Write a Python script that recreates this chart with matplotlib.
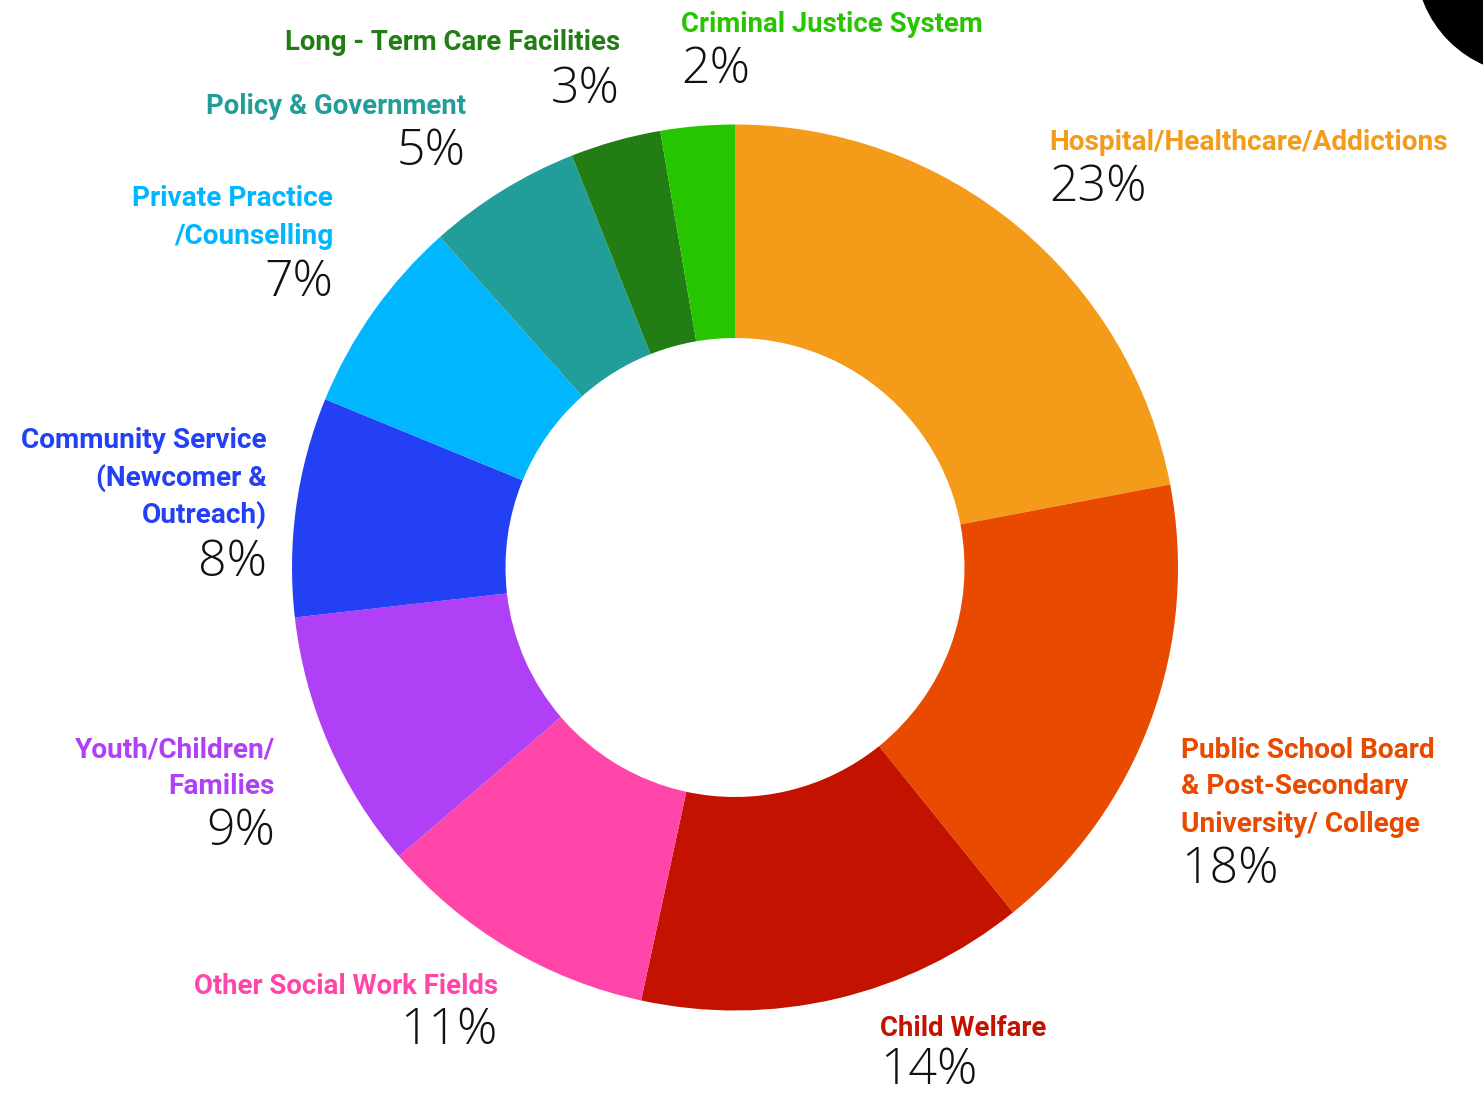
import matplotlib.pyplot as plt
from matplotlib.patches import Circle

W, H = 1483, 1095

categories = [
    "Hospital/Healthcare/Addictions",
    "Public School Board\n& Post-Secondary\nUniversity/ College",
    "Child Welfare",
    "Other Social Work Fields",
    "Youth/Children/\nFamilies",
    "Community Service\n(Newcomer &\nOutreach)",
    "Private Practice\n/Counselling",
    "Policy & Government",
    "Long - Term Care Facilities",
    "Criminal Justice System",
]
shares = [22.0, 17.2, 14.2, 10.3, 9.5, 8.0, 7.2, 5.6, 3.3, 2.7]
pct_labels = ["23%", "18%", "14%", "11%", "9%", "8%", "7%", "5%", "3%", "2%"]
colors = ["#F59B1A", "#E84A00", "#C41200", "#FF45A8", "#B040F5",
          "#2440F5", "#00B6FF", "#229E9A", "#227E14", "#27C400"]
condensed = [False, False, True, True, False, False, False, True, True, True]

# label anchor (x, title top line y, pct y, alignment) in pixels from top-left
label_pos = [
    (1049, 142, 188, "left"),
    (1181, 750, 870, "left"),
    (880, 1028, 1071, "left"),
    (498, 986, 1031, "right"),
    (275, 750, 832, "right"),
    (267, 441, 563, "right"),
    (333, 199, 283, "right"),
    (466, 106, 152, "right"),
    (620, 43, 90, "right"),
    (681, 24, 70, "left"),
]

fig = plt.figure(figsize=(W / 100, H / 100), dpi=100)
ax = fig.add_axes([0, 0, 1, 1])

ax.pie(shares, colors=colors, startangle=90, counterclock=False,
       center=(735, H - 567.5), radius=443,
       wedgeprops=dict(width=443 - 229.5, linewidth=0))
ax.add_patch(Circle((1530, H + 40), 114, color="black"))
# pie() resets the limits, so set them afterwards
ax.set_xlim(0, W)
ax.set_ylim(0, H)
ax.set_aspect("equal")
ax.axis("off")

line_h = 37
for cat, pct, col, cond, (x, ty, py, ha) in zip(categories, pct_labels, colors,
                                                condensed, label_pos):
    size = 19.8 if cond else 20.2
    for i, line in enumerate(cat.split("\n")):
        ax.text(x, H - (ty + i * line_h), line, color=col, fontsize=size,
                fontweight="bold", family=["Roboto", "DejaVu Sans"],
                ha=ha, va="center")
    ax.text(x, H - py, pct, color="#111111", fontsize=36, fontweight="light",
            family=["Open Sans", "DejaVu Sans"], ha=ha, va="center")

fig.savefig("out.png", dpi=100)
